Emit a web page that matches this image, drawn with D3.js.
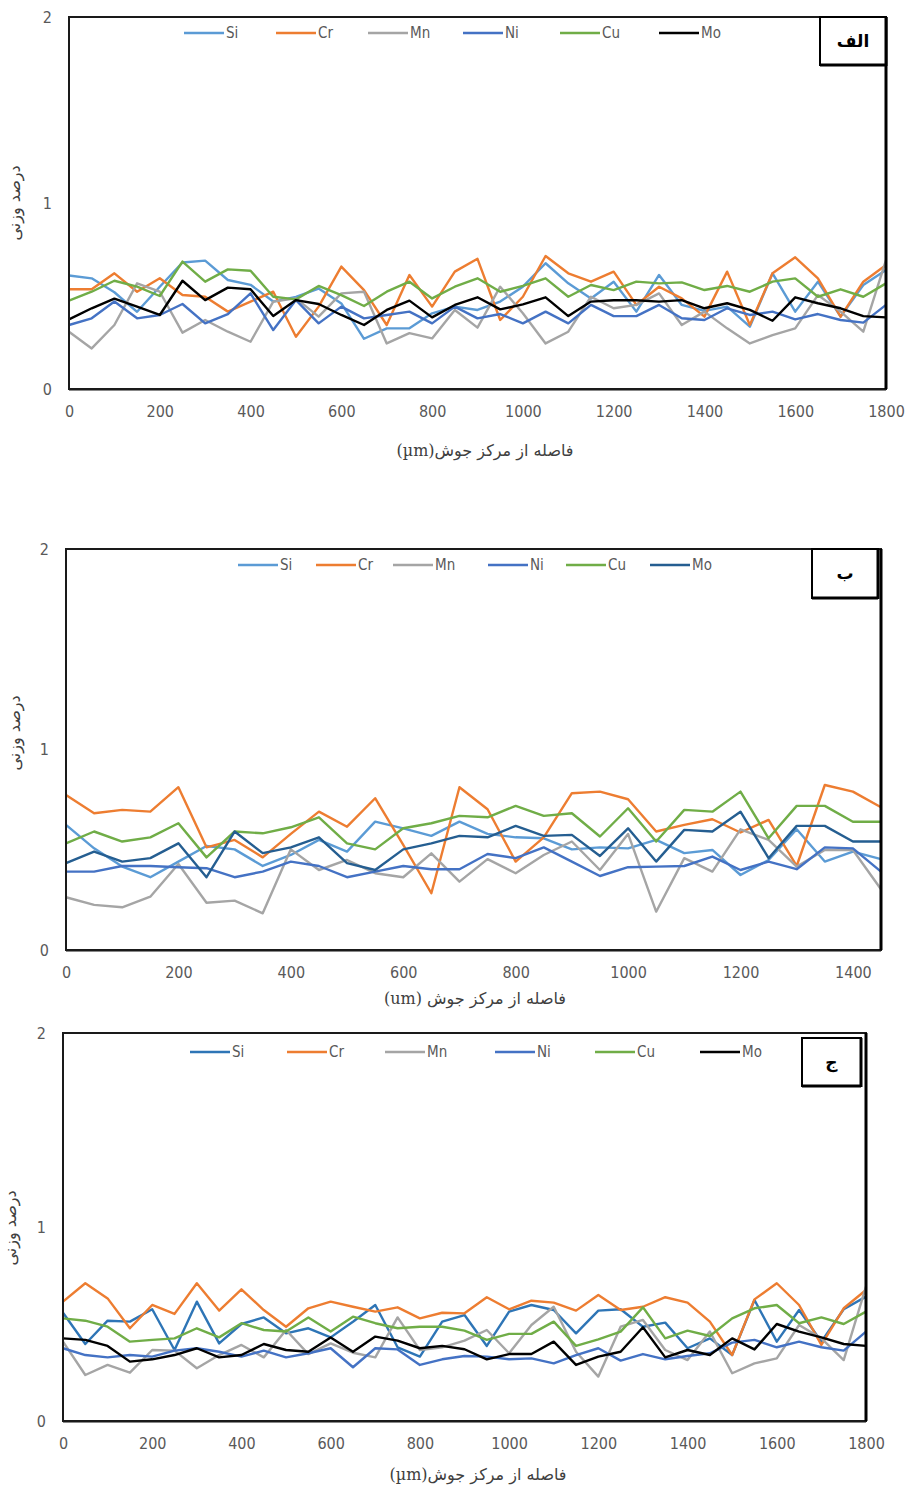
<!DOCTYPE html>
<html><head><meta charset="utf-8">
<script src="https://cdn.jsdelivr.net/npm/d3@7"></script>
<style>
body{margin:0;background:#fff;}
svg{display:block;}
</style></head>
<body>
<svg id="chart" width="906" height="1491"></svg>
<script>
// ---------- DATA ----------
const seriesNames = ["Si","Cr","Mn","Ni","Cu","Mo"];
const yTicks = [0,1,2];
const xTicksA = [0,200,400,600,800,1000,1200,1400,1600,1800];
const xTicksB = [0,200,400,600,800,1000,1200,1400];
const xTicksC = [0,200,400,600,800,1000,1200,1400,1600,1800];
const distA = d3.range(0,1801,50);
const distB = d3.range(0,1451,50);
const distC = d3.range(0,1801,50);

// panel الف
const siA=[0.61,0.595,0.52,0.415,0.55,0.68,0.69,0.586,0.56,0.47,0.495,0.54,0.46,0.27,0.326,0.326,0.407,0.443,0.425,0.47,0.55,0.676,0.568,0.487,0.577,0.416,0.613,0.452,0.42,0.443,0.335,0.622,0.416,0.577,0.389,0.559,0.64];
const crA=[0.536,0.536,0.622,0.523,0.595,0.505,0.496,0.416,0.47,0.523,0.281,0.443,0.658,0.532,0.344,0.613,0.443,0.631,0.70,0.371,0.496,0.715,0.622,0.577,0.631,0.452,0.55,0.487,0.389,0.631,0.344,0.622,0.708,0.595,0.389,0.577,0.667];
const mnA=[0.308,0.218,0.344,0.568,0.523,0.303,0.371,0.308,0.254,0.47,0.487,0.389,0.514,0.523,0.245,0.30,0.272,0.425,0.33,0.55,0.407,0.245,0.308,0.496,0.434,0.452,0.514,0.344,0.416,0.326,0.245,0.29,0.326,0.505,0.416,0.308,0.693];
const niA=[0.344,0.38,0.47,0.38,0.398,0.457,0.353,0.403,0.514,0.317,0.478,0.353,0.443,0.38,0.398,0.416,0.353,0.443,0.38,0.403,0.353,0.416,0.353,0.452,0.392,0.392,0.452,0.38,0.371,0.434,0.398,0.416,0.374,0.403,0.371,0.357,0.452];
const cuA=[0.475,0.523,0.582,0.55,0.50,0.685,0.577,0.643,0.636,0.496,0.482,0.554,0.505,0.446,0.523,0.577,0.487,0.55,0.595,0.523,0.554,0.595,0.496,0.559,0.532,0.577,0.568,0.573,0.532,0.554,0.523,0.577,0.595,0.496,0.536,0.496,0.568];
const moA=[0.374,0.434,0.486,0.443,0.398,0.582,0.478,0.545,0.536,0.392,0.478,0.457,0.398,0.344,0.425,0.475,0.385,0.452,0.493,0.428,0.455,0.493,0.392,0.47,0.477,0.477,0.47,0.478,0.434,0.461,0.425,0.367,0.493,0.461,0.434,0.392,0.385];

// panel ب
const siB=[0.624,0.507,0.416,0.363,0.441,0.519,0.502,0.419,0.474,0.549,0.491,0.640,0.607,0.569,0.640,0.579,0.562,0.557,0.502,0.512,0.507,0.549,0.483,0.499,0.374,0.449,0.602,0.441,0.491,0.453];
const crB=[0.773,0.682,0.699,0.690,0.812,0.512,0.549,0.462,0.579,0.690,0.615,0.757,0.524,0.283,0.812,0.702,0.441,0.562,0.782,0.790,0.752,0.591,0.624,0.652,0.586,0.649,0.419,0.823,0.790,0.712];
const mnB=[0.263,0.225,0.213,0.266,0.429,0.236,0.246,0.183,0.502,0.399,0.449,0.383,0.363,0.482,0.341,0.453,0.383,0.474,0.541,0.399,0.579,0.191,0.458,0.391,0.602,0.549,0.416,0.499,0.499,0.303];
const niB=[0.391,0.391,0.419,0.419,0.413,0.408,0.363,0.391,0.441,0.419,0.363,0.391,0.419,0.403,0.403,0.479,0.458,0.512,0.441,0.369,0.413,0.416,0.419,0.466,0.399,0.441,0.403,0.512,0.507,0.391];
const cuB=[0.532,0.591,0.541,0.562,0.632,0.462,0.591,0.582,0.612,0.662,0.532,0.502,0.607,0.632,0.669,0.662,0.719,0.669,0.682,0.566,0.707,0.541,0.699,0.690,0.790,0.557,0.719,0.719,0.640,0.640];
const moB=[0.433,0.491,0.441,0.458,0.532,0.363,0.591,0.483,0.512,0.562,0.433,0.399,0.502,0.532,0.569,0.562,0.619,0.569,0.574,0.469,0.607,0.441,0.599,0.591,0.690,0.458,0.619,0.619,0.541,0.541];

// panel ج
const siC=[0.558,0.397,0.517,0.512,0.576,0.366,0.615,0.400,0.500,0.534,0.452,0.478,0.431,0.512,0.598,0.380,0.332,0.512,0.546,0.387,0.564,0.598,0.572,0.452,0.569,0.576,0.486,0.507,0.375,0.426,0.340,0.624,0.409,0.572,0.409,0.576,0.641];
const crC=[0.615,0.710,0.632,0.478,0.598,0.552,0.710,0.569,0.679,0.572,0.486,0.581,0.615,0.589,0.564,0.586,0.529,0.558,0.555,0.638,0.576,0.620,0.610,0.569,0.650,0.572,0.589,0.638,0.610,0.512,0.340,0.627,0.710,0.598,0.392,0.581,0.675];
const mnC=[0.409,0.237,0.289,0.249,0.366,0.363,0.272,0.340,0.392,0.328,0.469,0.345,0.400,0.352,0.328,0.534,0.366,0.380,0.414,0.469,0.349,0.495,0.589,0.357,0.229,0.486,0.521,0.366,0.314,0.461,0.246,0.297,0.323,0.495,0.426,0.314,0.693];
const niC=[0.375,0.340,0.328,0.340,0.332,0.363,0.375,0.357,0.332,0.363,0.328,0.349,0.375,0.277,0.375,0.369,0.289,0.318,0.335,0.332,0.318,0.323,0.297,0.340,0.375,0.311,0.345,0.318,0.335,0.349,0.404,0.418,0.380,0.409,0.380,0.363,0.461];
const cuC=[0.529,0.517,0.486,0.409,0.418,0.426,0.478,0.431,0.504,0.469,0.461,0.534,0.461,0.538,0.504,0.478,0.486,0.486,0.466,0.418,0.449,0.449,0.512,0.387,0.421,0.461,0.586,0.426,0.466,0.438,0.529,0.581,0.598,0.504,0.534,0.500,0.564];
const moC=[0.426,0.418,0.387,0.306,0.318,0.340,0.375,0.328,0.340,0.397,0.366,0.357,0.431,0.357,0.435,0.414,0.375,0.387,0.37,0.318,0.345,0.345,0.409,0.289,0.332,0.357,0.483,0.328,0.366,0.340,0.426,0.369,0.500,0.461,0.431,0.397,0.387];

const colorsA = ["#5B9BD5","#ED7D31","#A5A5A5","#4472C4","#70AD47","#000000"];
const colorsB = ["#5B9BD5","#ED7D31","#A5A5A5","#4472C4","#70AD47","#255E91"];
const colorsC = ["#2E75B6","#ED7D31","#A5A5A5","#4472C4","#70AD47","#000000"];

const yTitle = "درصد وزنی";
const xTitleA = "فاصله از مرکز جوش(µm)";
const xTitleB = "فاصله از مرکز جوش (um)";
const xTitleC = "فاصله از مرکز جوش(µm)";

// ---------- DRAW ----------
const svg = d3.select("#chart");
const tickFont = "'Liberation Sans Narrow','Arial Narrow','DejaVu Sans Condensed','Roboto Condensed',sans-serif";
const arFont = "'DejaVu Serif','DejaVu Sans',serif";
const fmt = d3.format("d");

function panel(cfg){
  const g = svg.append("g");
  const x = d3.scaleLinear().domain([0,cfg.xMax]).range([cfg.left,cfg.right]);
  const y = d3.scaleLinear().domain([0,2]).range([cfg.bottom,cfg.top]);

  const xAxis = d3.axisBottom(x).tickValues(cfg.xTicks).tickFormat(fmt).tickSize(0).tickPadding(cfg.xPad);
  const gx = g.append("g").attr("transform",`translate(0,${cfg.bottom})`).call(xAxis);
  gx.select(".domain").remove();
  gx.selectAll("text").attr("fill","#595959").style("font-family",tickFont).style("font-size","16px").style("font-stretch","condensed");
  const yAxis = d3.axisLeft(y).tickValues(yTicks).tickFormat(fmt).tickSize(0).tickPadding(cfg.yPad);
  const gy = g.append("g").attr("transform",`translate(${cfg.left},0)`).call(yAxis);
  gy.select(".domain").remove();
  gy.selectAll("text").attr("fill","#595959").style("font-family",tickFont).style("font-size","16px").style("font-stretch","condensed");

  const line = d3.line().x((d,i)=>x(cfg.dist[i])).y(d=>y(d));
  cfg.series.forEach((s,k)=>{
    g.append("path").datum(s).attr("d",line).attr("fill","none")
      .attr("stroke",cfg.colors[k]).attr("stroke-width",2.4).attr("stroke-linejoin","round");
  });

  g.append("rect").attr("x",cfg.left).attr("y",cfg.top).attr("width",cfg.right-cfg.left).attr("height",cfg.bottom-cfg.top)
    .attr("fill","none").attr("stroke","#1a1a1a").attr("stroke-width",2);
  g.append("line").attr("x1",cfg.right).attr("x2",cfg.right).attr("y1",cfg.top).attr("y2",cfg.bottom)
    .attr("stroke","#000").attr("stroke-width",3);
  g.append("line").attr("x1",cfg.left).attr("x2",cfg.right).attr("y1",cfg.bottom+1.5).attr("y2",cfg.bottom+1.5)
    .attr("stroke","#888").attr("stroke-width",1.2);

  seriesNames.forEach((n,k)=>{
    const lx = cfg.legX[k];
    g.append("line").attr("x1",lx).attr("x2",lx+40).attr("y1",cfg.legY).attr("y2",cfg.legY)
      .attr("stroke",cfg.colors[k]).attr("stroke-width",2.6);
    g.append("text").attr("x",lx+42).attr("y",cfg.legY).attr("dy","0.35em").text(n)
      .attr("fill","#595959").style("font-family",tickFont).style("font-size","15px").style("font-stretch","condensed");
  });

  const b = cfg.box;
  g.append("rect").attr("x",b[0]).attr("y",b[1]).attr("width",b[2]).attr("height",b[3])
    .attr("fill","#fff").attr("stroke","#000").attr("stroke-width",2);
  g.append("line").attr("x1",b[0]+b[2]).attr("x2",b[0]+b[2]).attr("y1",b[1]).attr("y2",b[1]+b[3]+1).attr("stroke","#000").attr("stroke-width",3);
  g.append("line").attr("x1",b[0]).attr("x2",b[0]+b[2]).attr("y1",b[1]+b[3]).attr("y2",b[1]+b[3]).attr("stroke","#000").attr("stroke-width",3);
  g.append("text").attr("x",b[0]+b[2]/2).attr("y",b[1]+b[3]/2).attr("dy","0.35em").attr("text-anchor","middle")
    .attr("direction","rtl").text(cfg.label).style("font-family",arFont).style("font-weight","bold").style("font-size","17px");

  g.append("text").attr("x",cfg.xTitlePos[0]).attr("y",cfg.xTitlePos[1]).attr("text-anchor","middle")
    .attr("direction","rtl").attr("fill","#404040").text(cfg.xTitle).style("font-family",arFont).style("font-size","16px");
  g.append("text").attr("transform",`translate(${cfg.yTitlePos[0]},${cfg.yTitlePos[1]}) rotate(-90)`).attr("text-anchor","middle")
    .attr("direction","rtl").attr("fill","#404040").text(yTitle).style("font-family",arFont).style("font-size","16px");
}

panel({left:69,right:886,top:17,bottom:389,xMax:1800,xTicks:xTicksA,dist:distA,
  series:[siA,crA,mnA,niA,cuA,moA],colors:colorsA,xPad:17,yPad:17,
  legY:33,legX:[184,276,368,463,560,659],box:[820,17,66,48],label:"الف",
  xTitle:xTitleA,xTitlePos:[485,456],yTitlePos:[20,203]});

panel({left:66,right:881,top:549,bottom:950,xMax:1450,xTicks:xTicksB,dist:distB,
  series:[siB,crB,mnB,niB,cuB,moB],colors:colorsB,xPad:17,yPad:17,
  legY:565,legX:[238,316,393,488,566,650],box:[812,549,66,49],label:"ب",
  xTitle:xTitleB,xTitlePos:[475,1004],yTitlePos:[20,733]});

panel({left:63,right:866,top:1033,bottom:1421,xMax:1800,xTicks:xTicksC,dist:distC,
  series:[siC,crC,mnC,niC,cuC,moC],colors:colorsC,xPad:17,yPad:17,
  legY:1052,legX:[190,287,385,495,595,700],box:[802,1038,59,48],label:"ج",
  xTitle:xTitleC,xTitlePos:[478,1480],yTitlePos:[16,1228]});
</script>
</body></html>
